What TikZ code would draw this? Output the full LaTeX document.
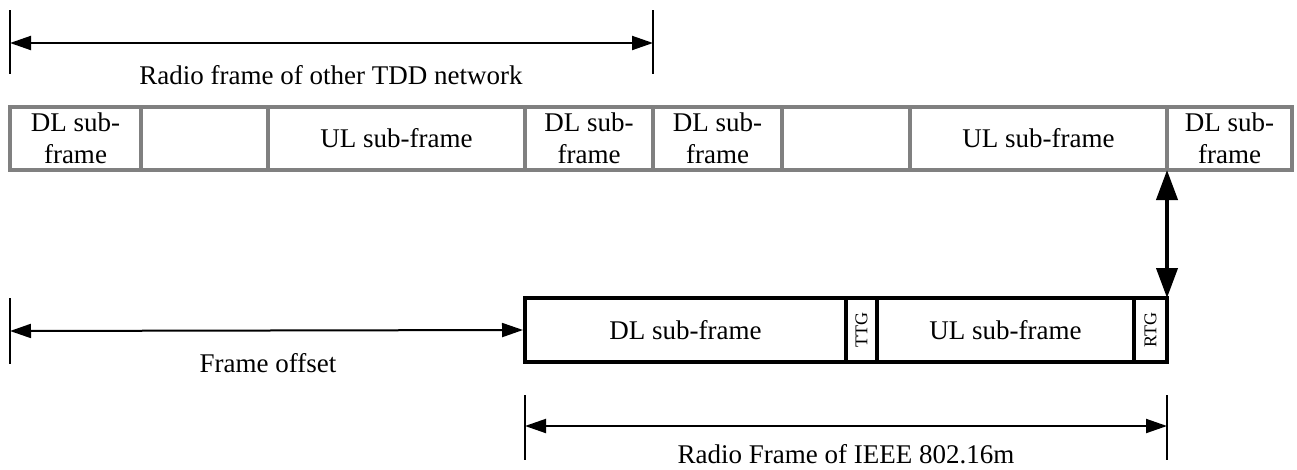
\documentclass[tikz,border=0pt]{standalone}
\usepackage{fontspec}
\setmainfont{Liberation Serif}
\usetikzlibrary{arrows.meta}
\definecolor{bargray}{HTML}{808080}
\tikzset{
  graybox/.style={draw=bargray, line width=4pt, rectangle, inner sep=0pt, outer sep=0pt, align=center,
     font=\fontsize{27}{32}\selectfont, minimum height=63pt},
  blackbox/.style={draw=black, line width=4pt, rectangle, inner sep=0pt, outer sep=0pt, align=center,
     font=\fontsize{27}{32}\selectfont, minimum height=64pt},
  dimline/.style={line width=2pt, {Triangle[length=21pt,width=14pt]}-{Triangle[length=21pt,width=14pt]}},
  tickline/.style={line width=1.6pt},
  lbl/.style={font=\fontsize{27}{32}\selectfont, inner sep=0pt},
  smalllbl/.style={font=\fontsize{18}{20}\selectfont, inner sep=0pt, rotate=90},
  bigarrow/.style={line width=4pt, {Triangle[length=30pt,width=21pt]}-{Triangle[length=30pt,width=21pt]}}
}
\begin{document}
\begin{tikzpicture}[x=1pt,y=-1pt]
\useasboundingbox (0,0) rectangle (1297,469);
% top bar
\node[graybox, minimum width=131pt, anchor=north west] (t1) at (10,107) {DL sub-\\frame};
\node[graybox, minimum width=127pt, anchor=north west] (t2) at (t1.north east) {};
\node[graybox, minimum width=257pt, anchor=north west] (t3) at (t2.north east) {UL sub-frame};
\node[graybox, minimum width=128pt, anchor=north west] (t4) at (t3.north east) {DL sub-\\frame};
\node[graybox, minimum width=129pt, anchor=north west] (t5) at (t4.north east) {DL sub-\\frame};
\node[graybox, minimum width=128pt, anchor=north west] (t6) at (t5.north east) {};
\node[graybox, minimum width=257pt, anchor=north west] (t7) at (t6.north east) {UL sub-frame};
\node[graybox, minimum width=125pt, anchor=north west] (t8) at (t7.north east) {DL sub-\\frame};
% bottom frame
\node[blackbox, minimum width=321pt, anchor=north west] (bdl) at (525,298) {DL sub-frame};
\node[blackbox, minimum width=31pt, anchor=north west] (ttg) at (bdl.north east) {};
\node[smalllbl] at (ttg.center) {TTG};
\node[blackbox, minimum width=257pt, anchor=north west] (bul) at (ttg.north east) {UL sub-frame};
\node[blackbox, minimum width=33pt, anchor=north west] (rtg) at (bul.north east) {};
\node[smalllbl] at (rtg.center) {RTG};
% vertical double arrow
\draw[bigarrow] (t8.south west) -- (rtg.north east);
% top dimension
\coordinate (ta1) at (10,10); \coordinate (tb1) at (10,74);
\coordinate (ta2) at (653,10); \coordinate (tb2) at (653,74);
\coordinate (tl) at (10,43); \coordinate (tr) at (653,43);
\draw[tickline] (ta1) -- (tb1);
\draw[tickline] (ta2) -- (tb2);
\draw[dimline] (tl) -- (tr);
\node[lbl] (toplbl) at (331,75) {Radio frame of other TDD network};
% frame offset
\coordinate (fa) at (10,298); \coordinate (fb) at (10,364);
\coordinate (fl) at (10,331);
\draw[tickline] (fa) -- (fb);
\draw[dimline] (fl) -- ([xshift=-2pt]bdl.west);
\node[lbl] (fol) at (268,363) {Frame offset};
% bottom dimension
\coordinate (ba1) at (525,395); \coordinate (bb1) at (525,460);
\coordinate (ba2) at (1167,395); \coordinate (bb2) at (1167,460);
\coordinate (bl) at (525,426); \coordinate (br) at (1167,426);
\draw[tickline] (ba1) -- (bb1);
\draw[tickline] (ba2) -- (bb2);
\draw[dimline] (bl) -- (br);
\node[lbl] (botlbl) at (846,454) {Radio Frame of IEEE 802.16m};
\end{tikzpicture}
\end{document}
